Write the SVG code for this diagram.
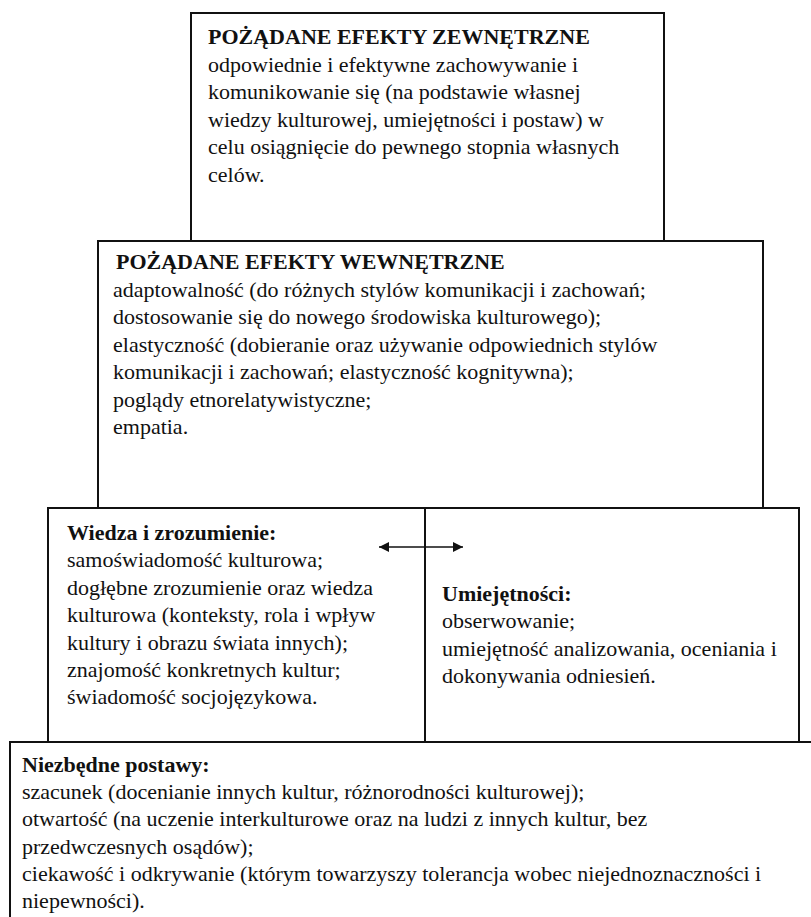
<svg xmlns="http://www.w3.org/2000/svg" width="811" height="917" viewBox="0 0 811 917">
<style>
.box{fill:#fff;stroke:#111;stroke-width:2}
.t{font-family:"Liberation Serif","Times New Roman",serif;font-size:22px;fill:#111}
.b{font-weight:bold}
.arr{stroke:#111;stroke-width:1.6;fill:none}
</style>
<defs>
<marker id="ah" viewBox="0 0 10 10" refX="10" refY="5" markerWidth="10" markerHeight="10" markerUnits="userSpaceOnUse" orient="auto-start-reverse">
<path d="M0,0 L10,5 L0,10 z" fill="#111"/>
</marker>
</defs>
<rect width="811" height="917" fill="#fff"/>
<g id="top">
<rect class="box" x="191" y="13" width="473" height="228"/>
<text class="t b" x="208" y="44">POŻĄDANE EFEKTY ZEWNĘTRZNE</text>
<text class="t" x="208" y="72">odpowiednie i efektywne zachowywanie i</text>
<text class="t" x="208" y="99">komunikowanie się (na podstawie własnej</text>
<text class="t" x="208" y="127">wiedzy kulturowej, umiejętności i postaw) w</text>
<text class="t" x="208" y="154">celu osiągnięcie do pewnego stopnia własnych</text>
<text class="t" x="208" y="182">celów.</text>
</g>
<g id="middle">
<rect class="box" x="98" y="241" width="665" height="267"/>
<text class="t b" x="116" y="269">POŻĄDANE EFEKTY WEWNĘTRZNE</text>
<text class="t" x="113" y="297">adaptowalność (do różnych stylów komunikacji i zachowań;</text>
<text class="t" x="113" y="324">dostosowanie się do nowego środowiska kulturowego);</text>
<text class="t" x="113" y="352">elastyczność (dobieranie oraz używanie odpowiednich stylów</text>
<text class="t" x="113" y="379">komunikacji i zachowań; elastyczność kognitywna);</text>
<text class="t" x="113" y="407">poglądy etnorelatywistyczne;</text>
<text class="t" x="113" y="434">empatia.</text>
</g>
<g id="left">
<rect class="box" x="48" y="508" width="377" height="234"/>
<text class="t b" x="67" y="540">Wiedza i zrozumienie:</text>
<text class="t" x="67" y="567">samoświadomość kulturowa;</text>
<text class="t" x="67" y="595">dogłębne zrozumienie oraz wiedza</text>
<text class="t" x="67" y="622">kulturowa (konteksty, rola i wpływ</text>
<text class="t" x="67" y="650">kultury i obrazu świata innych);</text>
<text class="t" x="67" y="677">znajomość konkretnych kultur;</text>
<text class="t" x="67" y="704">świadomość socjojęzykowa.</text>
</g>
<g id="right">
<rect class="box" x="425" y="508" width="374" height="234"/>
<text class="t b" x="442" y="601">Umiejętności:</text>
<text class="t" x="442" y="628">obserwowanie;</text>
<text class="t" x="442" y="656">umiejętność analizowania, oceniania i</text>
<text class="t" x="442" y="683">dokonywania odniesień.</text>
</g>
<g id="bottom">
<rect class="box" x="10" y="742" width="820" height="200"/>
<text class="t b" x="22" y="772">Niezbędne postawy:</text>
<text class="t" x="22" y="799">szacunek (docenianie innych kultur, różnorodności kulturowej);</text>
<text class="t" x="22" y="826">otwartość (na uczenie interkulturowe oraz na ludzi z innych kultur, bez</text>
<text class="t" x="22" y="854">przedwczesnych osądów);</text>
<text class="t" x="22" y="881">ciekawość i odkrywanie (którym towarzyszy tolerancja wobec niejednoznaczności i</text>
<text class="t" x="22" y="908">niepewności).</text>
</g>
<g id="connectors">
<line class="arr" x1="379" y1="547" x2="463" y2="547" marker-start="url(#ah)" marker-end="url(#ah)"/>
</g>
</svg>
